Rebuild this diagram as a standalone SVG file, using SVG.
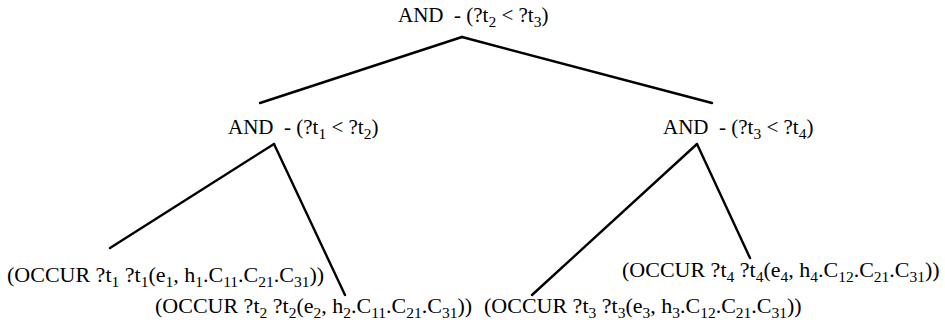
<svg xmlns="http://www.w3.org/2000/svg" width="945" height="326" viewBox="0 0 945 326">
<style>
text{font-family:"Liberation Serif","Times New Roman",serif;font-size:21px;fill:#000;white-space:pre}
.l{font-size:22px}
.s{font-size:15.5px}
line{stroke:#000;stroke-width:2.4;stroke-linecap:round}
</style>
<rect width="945" height="326" fill="#fff"/>
<g id="connectors">
<line x1="462" y1="37" x2="260" y2="103"/>
<line x1="462" y1="37" x2="712" y2="103"/>
<line x1="274" y1="144" x2="110" y2="248"/>
<line x1="274" y1="144" x2="345" y2="295"/>
<line x1="697" y1="144" x2="532" y2="295"/>
<line x1="697" y1="144" x2="750" y2="258"/>
</g>
<g id="n-root"><text x="398" y="22">AND&#160; - (?t<tspan class="s" dy="5">2</tspan><tspan dy="-5"> &lt; ?t</tspan><tspan class="s" dy="5">3</tspan><tspan dy="-5">)</tspan></text></g>
<g id="n-and1"><text x="228" y="134">AND&#160; - (?t<tspan class="s" dy="5">1</tspan><tspan dy="-5"> &lt; ?t</tspan><tspan class="s" dy="5">2</tspan><tspan dy="-5">)</tspan></text></g>
<g id="n-and2"><text x="663" y="134">AND&#160; - (?t<tspan class="s" dy="5">3</tspan><tspan dy="-5"> &lt; ?t</tspan><tspan class="s" dy="5">4</tspan><tspan dy="-5">)</tspan></text></g>
<g id="n-occ1"><text class="l" x="7" y="282">(OCCUR ?t<tspan class="s" dy="5">1</tspan><tspan dy="-5"> ?t</tspan><tspan class="s" dy="5">1</tspan><tspan dy="-5">(e</tspan><tspan class="s" dy="5">1</tspan><tspan dy="-5">, h</tspan><tspan class="s" dy="5">1</tspan><tspan dy="-5">.C</tspan><tspan class="s" dy="5">11</tspan><tspan dy="-5">.C</tspan><tspan class="s" dy="5">21</tspan><tspan dy="-5">.C</tspan><tspan class="s" dy="5">31</tspan><tspan dy="-5">))</tspan></text></g>
<g id="n-occ2"><text class="l" x="155" y="313">(OCCUR ?t<tspan class="s" dy="5">2</tspan><tspan dy="-5"> ?t</tspan><tspan class="s" dy="5">2</tspan><tspan dy="-5">(e</tspan><tspan class="s" dy="5">2</tspan><tspan dy="-5">, h</tspan><tspan class="s" dy="5">2</tspan><tspan dy="-5">.C</tspan><tspan class="s" dy="5">11</tspan><tspan dy="-5">.C</tspan><tspan class="s" dy="5">21</tspan><tspan dy="-5">.C</tspan><tspan class="s" dy="5">31</tspan><tspan dy="-5">))</tspan></text></g>
<g id="n-occ3"><text class="l" x="484" y="313">(OCCUR ?t<tspan class="s" dy="5">3</tspan><tspan dy="-5"> ?t</tspan><tspan class="s" dy="5">3</tspan><tspan dy="-5">(e</tspan><tspan class="s" dy="5">3</tspan><tspan dy="-5">, h</tspan><tspan class="s" dy="5">3</tspan><tspan dy="-5">.C</tspan><tspan class="s" dy="5">12</tspan><tspan dy="-5">.C</tspan><tspan class="s" dy="5">21</tspan><tspan dy="-5">.C</tspan><tspan class="s" dy="5">31</tspan><tspan dy="-5">))</tspan></text></g>
<g id="n-occ4"><text class="l" x="622" y="277">(OCCUR ?t<tspan class="s" dy="5">4</tspan><tspan dy="-5"> ?t</tspan><tspan class="s" dy="5">4</tspan><tspan dy="-5">(e</tspan><tspan class="s" dy="5">4</tspan><tspan dy="-5">, h</tspan><tspan class="s" dy="5">4</tspan><tspan dy="-5">.C</tspan><tspan class="s" dy="5">12</tspan><tspan dy="-5">.C</tspan><tspan class="s" dy="5">21</tspan><tspan dy="-5">.C</tspan><tspan class="s" dy="5">31</tspan><tspan dy="-5">))</tspan></text></g>
</svg>
